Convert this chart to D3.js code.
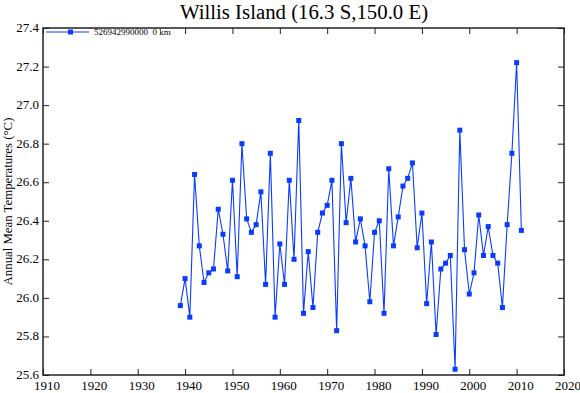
<!DOCTYPE html>
<html>
<head>
<meta charset="utf-8">
<script src="https://cdn.jsdelivr.net/npm/d3@7"></script>
<style>
  body { margin: 0; background: #fff; }
  text { font-family: "Liberation Serif", "DejaVu Serif", serif; fill: #000; }
</style>
</head>
<body>
<svg id="chart" width="580" height="393"></svg>
<script>
// annual mean temperatures, Willis Island, 1939-2011
var years = d3.range(1939, 2012),
    temps = [25.96, 26.10, 25.90, 26.64, 26.27, 26.08, 26.13, 26.15, 26.46, 26.33,
             26.14, 26.61, 26.11, 26.80, 26.41, 26.34, 26.38, 26.55, 26.07, 26.75,
             25.90, 26.28, 26.07, 26.61, 26.20, 26.92, 25.92, 26.24, 25.95, 26.34,
             26.44, 26.48, 26.61, 25.83, 26.80, 26.39, 26.62, 26.29, 26.41, 26.27,
             25.98, 26.34, 26.40, 25.92, 26.67, 26.27, 26.42, 26.58, 26.62, 26.70,
             26.26, 26.44, 25.97, 26.29, 25.81, 26.15, 26.18, 26.22, 25.63, 26.87,
             26.25, 26.02, 26.13, 26.43, 26.22, 26.37, 26.22, 26.18, 25.95, 26.38,
             26.75, 27.22, 26.35],
    xTicks = d3.range(1910, 2021, 10),
    yTicks = [25.6, 25.8, 26.0, 26.2, 26.4, 26.6, 26.8, 27.0, 27.2, 27.4],
    title = "Willis Island (16.3 S,150.0 E)",
    yLabel = "Annual Mean Temperatures (\u00B0C)",
    legendLabel = "526942990000  0 km";

var svg = d3.select("#chart"),
    plotLeft = 43, plotRight = 564, plotTop = 28, plotBottom = 375,
    blue = "#0a3cff";

var x = d3.scaleLinear().domain([1910, 2020]).range([plotLeft, plotRight]);
var y = d3.scaleLinear().domain([25.6, 27.4]).range([plotBottom, plotTop]);

// inward ticks on all four sides
svg.append("g").attr("transform", "translate(0," + plotBottom + ")")
    .call(d3.axisTop(x).tickValues(xTicks).tickSize(6).tickFormat(""));
svg.append("g").attr("transform", "translate(0," + plotTop + ")")
    .call(d3.axisBottom(x).tickValues(xTicks).tickSize(6).tickFormat(""));
svg.append("g").attr("transform", "translate(" + plotLeft + ",0)")
    .call(d3.axisRight(y).tickValues(yTicks).tickSize(6).tickFormat(""));
svg.append("g").attr("transform", "translate(" + plotRight + ",0)")
    .call(d3.axisLeft(y).tickValues(yTicks).tickSize(6).tickFormat(""));
svg.selectAll(".domain").remove();
svg.selectAll(".tick line").attr("stroke", "#222").attr("stroke-width", 1);

// tick labels
svg.selectAll(".xl").data(xTicks).enter().append("text")
    .attr("x", function (d) { return x(d) + 4; })
    .attr("y", 390)
    .attr("text-anchor", "middle")
    .attr("font-size", 13)
    .text(function (d) { return d; });
svg.selectAll(".yl").data(yTicks).enter().append("text")
    .attr("x", 39)
    .attr("y", function (d) { return y(d) + 4; })
    .attr("text-anchor", "end")
    .attr("font-size", 13)
    .text(function (d) { return d.toFixed(1); });

svg.append("text")
    .attr("x", 304).attr("y", 19)
    .attr("text-anchor", "middle")
    .attr("font-size", 20.8)
    .text(title);

svg.append("text")
    .attr("transform", "translate(12," + ((plotTop + plotBottom) / 2) + ") rotate(-90)")
    .attr("text-anchor", "middle")
    .attr("font-size", 12.8)
    .text(yLabel);

// series
var line = d3.line()
    .x(function (d, i) { return x(years[i]); })
    .y(function (d) { return y(d); });
svg.append("path").datum(temps)
    .attr("d", line)
    .attr("fill", "none")
    .attr("stroke", blue)
    .attr("stroke-width", 1.1);
svg.selectAll(".pt").data(temps).enter().append("rect")
    .attr("x", function (d, i) { return x(years[i]) - 2.5; })
    .attr("y", function (d) { return y(d) - 2.5; })
    .attr("width", 5).attr("height", 5)
    .attr("fill", blue);

// legend, on a white patch that hides the top ticks under it
svg.append("rect")
    .attr("x", 44).attr("y", 29).attr("width", 132).attr("height", 12)
    .attr("fill", "#fff");
svg.append("line")
    .attr("x1", 46).attr("x2", 89).attr("y1", 32).attr("y2", 32)
    .attr("stroke", blue).attr("stroke-width", 1.1);
svg.append("rect")
    .attr("x", 68).attr("y", 29.5).attr("width", 5).attr("height", 5)
    .attr("fill", blue);
svg.append("text")
    .attr("x", 94).attr("y", 35)
    .attr("font-size", 9)
    .style("white-space", "pre")
    .text(legendLabel);

// frame
svg.append("rect")
    .attr("x", plotLeft).attr("y", plotTop)
    .attr("width", plotRight - plotLeft).attr("height", plotBottom - plotTop)
    .attr("fill", "none").attr("stroke", "#222").attr("stroke-width", 1.5);
</script>
</body>
</html>
